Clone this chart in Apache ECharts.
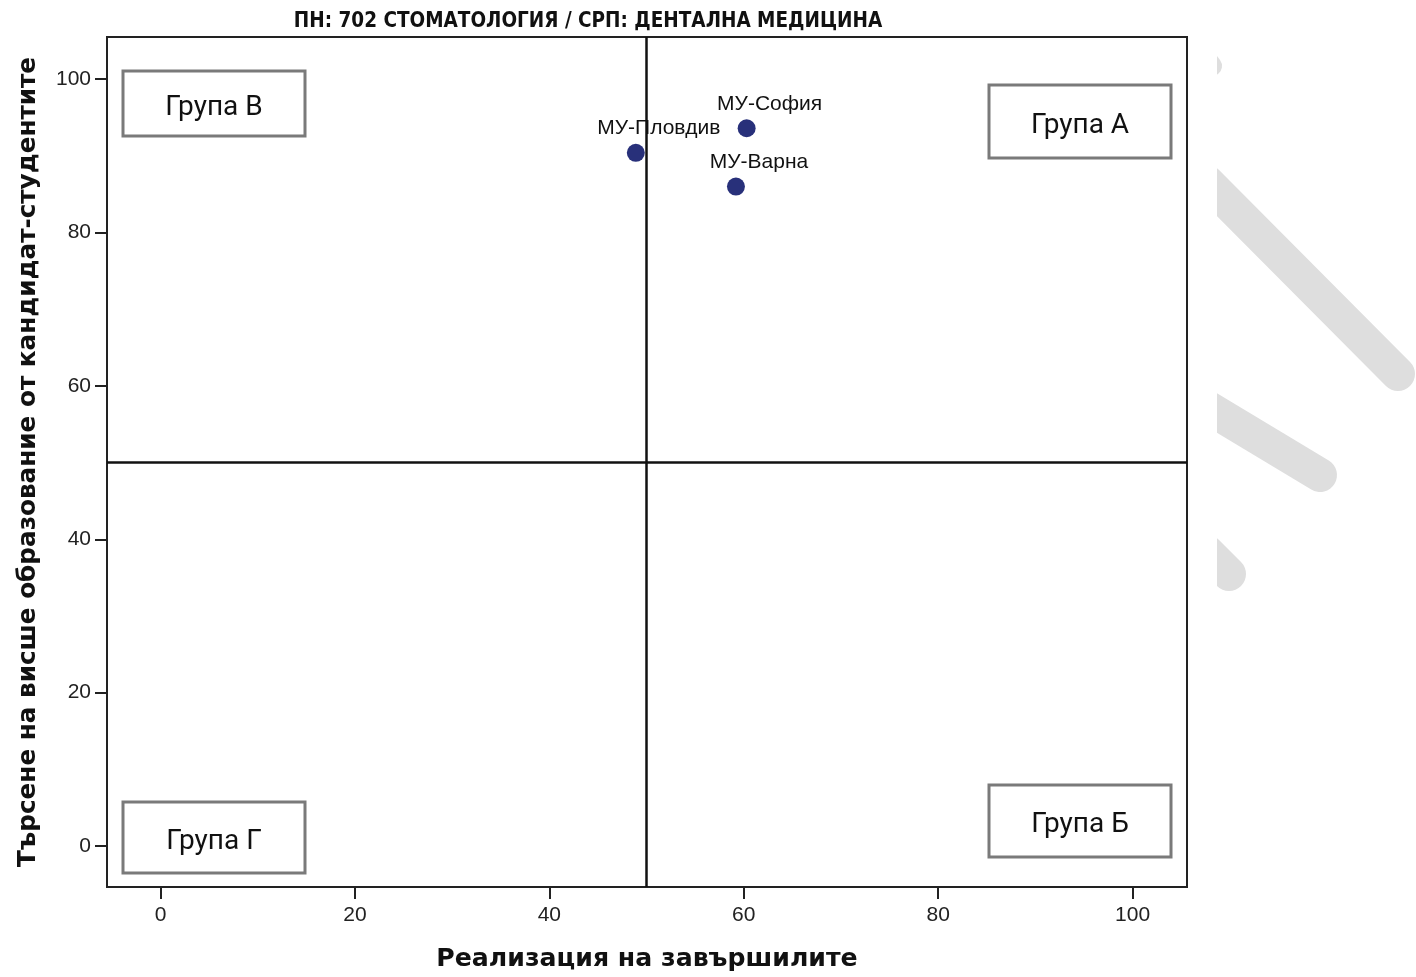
<!DOCTYPE html>
<html>
<head>
<meta charset="utf-8">
<script src="https://cdn.jsdelivr.net/npm/echarts@6/dist/echarts.min.js"></script>
<style>
html,body{margin:0;padding:0;background:#fff;}
#chart{width:1416px;height:977px;}
</style>
</head>
<body>
<div id="chart"></div>
<script>
// ---- data ----
const names = ['МУ-Пловдив', 'МУ-София', 'МУ-Варна'];
const xValues = [48.9, 60.3, 59.2];
const yValues = [90.4, 93.6, 86.0];
const tickValues = [0, 20, 40, 60, 80, 100];
const refX = 50;
const refY = 50;
const titleText = 'ПН: 702 СТОМАТОЛОГИЯ / СРП: ДЕНТАЛНА МЕДИЦИНА';
const xTitle = 'Реализация на завършилите';
const yTitle = 'Търсене на висше образование от кандидат-студентите';
const groupLabels = ['Група В', 'Група А', 'Група Б', 'Група Г'];

const chart = echarts.init(document.getElementById('chart'));

const points = names.map((n, i) => ({ name: n, value: [xValues[i], yValues[i]] }));

function groupBox(label, x, y, w, h) {
  return {
    type: 'group', x: x, y: y, z: 50,
    children: [
      { type: 'rect', shape: { x: 0, y: 0, width: w, height: h },
        style: { fill: '#fff', stroke: '#7a7a7a', lineWidth: 3 } },
      { type: 'text', x: w / 2, y: h / 2 + 4,
        style: { text: label, fill: '#111', font: '28px Roboto, "Liberation Sans", sans-serif',
                 textAlign: 'center', textVerticalAlign: 'middle' } }
    ]
  };
}

const wm = '#dedede';
const option = {
  backgroundColor: '#fff',
  animation: false,
  grid: { left: 107, top: 37, width: 1080, height: 852, show: true,
          borderColor: '#222', borderWidth: 2, containLabel: false },
  xAxis: {
    type: 'value', min: -5.5, max: 105.6,
    name: xTitle, nameLocation: 'middle', nameGap: 60,
    nameTextStyle: { fontFamily: 'DejaVu Sans', fontWeight: 'bold', fontSize: 25.2, color: '#111' },
    axisLine: { show: true, onZero: false, lineStyle: { color: '#222', width: 2 } },
    axisTick: { show: true, customValues: tickValues, length: 12, lineStyle: { color: '#222', width: 2 } },
    axisLabel: { customValues: tickValues, margin: 18, fontFamily: 'Liberation Sans', fontSize: 21, color: '#222' },
    splitLine: { show: false }
  },
  yAxis: {
    type: 'value', min: -5.35, max: 105.5,
    name: yTitle, nameLocation: 'middle', nameGap: 66,
    nameTextStyle: { fontFamily: 'DejaVu Sans', fontWeight: 'bold', fontSize: 24.7, color: '#111' },
    axisLine: { show: true, onZero: false, lineStyle: { color: '#222', width: 2 } },
    axisTick: { show: true, customValues: tickValues, length: 12, lineStyle: { color: '#222', width: 2 } },
    axisLabel: { customValues: tickValues, margin: 16, fontFamily: 'Liberation Sans', fontSize: 21, color: '#222' },
    splitLine: { show: false }
  },
  series: [{
    type: 'scatter',
    data: points,
    symbol: 'circle',
    symbolSize: 18,
    itemStyle: { color: '#28307a', opacity: 1 },
    z: 10,
    label: {
      show: true, formatter: '{b}', position: 'top', offset: [23, 0],
      fontFamily: 'Liberation Sans', fontSize: 21, color: '#111'
    },
    markLine: {
      silent: true, symbol: 'none', animation: false,
      label: { show: false },
      lineStyle: { color: '#111', width: 2.5, type: 'solid' },
      data: [{ xAxis: refX }, { yAxis: refY }]
    }
  }],
  graphic: [
    { type: 'text', x: 588, y: 22, z: 60,
      style: { text: titleText, fill: '#111',
               font: 'bold 20.5px "Liberation Sans Narrow", "DejaVu Sans Condensed", "Liberation Sans", sans-serif',
               textAlign: 'center', textVerticalAlign: 'middle' } },
    groupBox(groupLabels[0], 123, 71, 182, 65),
    groupBox(groupLabels[1], 989, 85, 182, 73),
    groupBox(groupLabels[2], 989, 785, 182, 72),
    groupBox(groupLabels[3], 123, 802, 182, 71),
    // decorative watermark strokes on the right
    { type: 'line', z: 1, shape: { x1: 1206, y1: 58, x2: 1212, y2: 66 },
      style: { stroke: wm, lineWidth: 20, lineCap: 'round' } },
    { type: 'line', z: 1, shape: { x1: 1207, y1: 182, x2: 1398, y2: 374 },
      style: { stroke: wm, lineWidth: 34, lineCap: 'round' } },
    { type: 'line', z: 1, shape: { x1: 1207, y1: 407, x2: 1320, y2: 475 },
      style: { stroke: wm, lineWidth: 34, lineCap: 'round' } },
    { type: 'line', z: 1, shape: { x1: 1207, y1: 552, x2: 1229, y2: 574 },
      style: { stroke: wm, lineWidth: 34, lineCap: 'round' } },
    { type: 'rect', z: 2, shape: { x: 1189, y: 30, width: 28, height: 600 },
      style: { fill: '#fff' } }
  ]
};
chart.setOption(option);
</script>
</body>
</html>
